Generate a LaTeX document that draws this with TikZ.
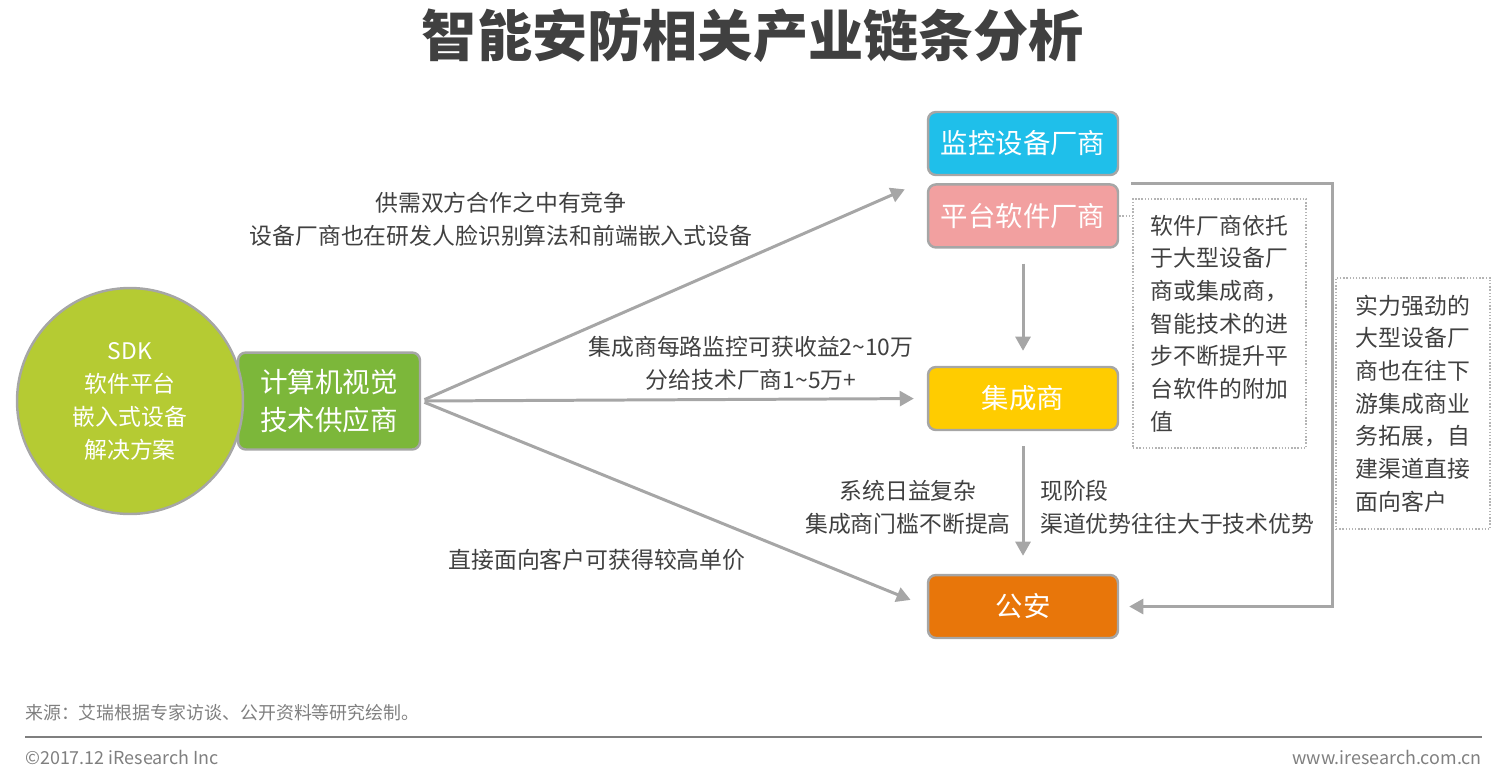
\documentclass[tikz,border=0pt]{standalone}
\usepackage{fontspec}
\setmainfont{Noto Sans CJK SC}
\usepackage{xcolor}
\usetikzlibrary{arrows.meta}
\usetikzlibrary{positioning,calc}
\definecolor{txtgray}{HTML}{404040}
\definecolor{linegray}{HTML}{A6A6A6}
\definecolor{dotgray}{HTML}{B4B4B4}
\definecolor{footgray}{HTML}{7F7F7F}
\definecolor{limegreen}{HTML}{B5CB33}
\definecolor{supgreen}{HTML}{7CB73A}
\definecolor{camblue}{HTML}{1FBFEA}
\definecolor{softpink}{HTML}{F2A0A0}
\definecolor{intyellow}{HTML}{FFCC00}
\definecolor{policeorange}{HTML}{E8760A}

\begin{document}
\begin{tikzpicture}[x=0.02cm,y=-0.02cm]

\tikzstyle{firm} = [rectangle, rounded corners=4.5pt, draw=linegray, line width=1.4pt,
minimum width=3.8cm, minimum height=1.26cm, text=white, font=\fontsize{15.6}{18}\selectfont]
\tikzstyle{flow} = [draw=linegray, line width=1.7pt, -{Triangle[length=8pt,width=8.5pt]}]
\tikzstyle{note} = [text=txtgray, font=\fontsize{13}{18.8}\selectfont, align=center]
\tikzstyle{remark} = [draw=dotgray, densely dotted, line width=0.8pt, text=txtgray,
font=\fontsize{13}{18.6}\selectfont, align=left]

\useasboundingbox (0,0) rectangle (1507,775);

\node[font=\fontsize{31.4}{34}\selectfont\bfseries, text=txtgray] (title) at (753,36) {智能安防相关产业链条分析};

\node[firm, fill=supgreen, minimum width=3.64cm, minimum height=1.94cm, align=center,
font=\fontsize{15.7}{22}\selectfont] (supplier) at (329,401) {计算机视觉\\技术供应商};
\node[circle, fill=limegreen, draw=linegray, line width=1.4pt, minimum size=4.52cm, text=white,
align=center, font=\fontsize{13}{18.8}\selectfont] (offer) at (130,401) {SDK\\软件平台\\嵌入式设备\\解决方案};

\node[firm, fill=camblue] (camera) at (1023,143.5) {监控设备厂商};
\node[firm, fill=softpink, below=0.14cm of camera] (platform) {平台软件厂商};
\node[firm, fill=intyellow] (integrator) at (1023,398.5) {集成商};
\node[firm, fill=policeorange] (police) at (1023,606.5) {公安};

\coordinate (vendors) at ($(camera.south west)!0.5!(platform.north west)$);
\draw[flow, shorten <=2pt, shorten >=0.48cm] (supplier.east) -- (vendors);
\draw[flow, shorten <=2pt, shorten >=0.26cm] (supplier.east) -- (integrator.west);
\draw[flow, shorten <=2pt, shorten >=0.35cm] (supplier.east) -- (police.west);

\draw[flow, shorten <=0.3cm, shorten >=0.3cm] (platform) -- (integrator);
\draw[flow, shorten <=0.3cm, shorten >=0.36cm] (integrator) -- (police);
\draw[flow, shorten >=0.2cm] ([xshift=0.24cm]platform.north east) -- ++(201,0) |- (police.east);

\node[remark, minimum width=3.46cm, minimum height=4.98cm] (softnote) at (1219.5,323.5)
{软件厂商依托\\于大型设备厂\\商或集成商，\\智能技术的进\\步不断提升平\\台软件的附加\\值};
\draw[densely dotted, draw=dotgray, line width=0.8pt] (platform.east) -- (platform.east -| softnote.west);
\node[remark, minimum width=3.08cm, minimum height=5.02cm] (bignote) at (1413,403.5)
{实力强劲的\\大型设备厂\\商也在往下\\游集成商业\\务拓展，自\\建渠道直接\\面向客户};

\node[note] (coop) at (501,219) {供需双方合作之中有竞争\\设备厂商也在研发人脸识别算法和前端嵌入式设备};
\node[note] (income) at (751,363.5) {集成商每路监控可获收益2\textasciitilde10万\\分给技术厂商1\textasciitilde5万+};
\node[note] (direct) at (597,560) {直接面向客户可获得较高单价};
\node[note] (complex) at (908,507) {系统日益复杂\\集成商门槛不断提高};
\node[note, align=left, anchor=west] (channel) at (1034,507) {现阶段\\渠道优势往往大于技术优势};

% footer
\node[anchor=west, text=footgray, font=\fontsize{10.2}{12}\selectfont] (source) at (19,713)
{来源：艾瑞根据专家访谈、公开资料等研究绘制。};
\draw[footgray, line width=1.4pt] (25,737) -- (1482,737);
\node[anchor=west, text=footgray, font=\fontsize{10.2}{12}\selectfont] (copyright) at (19,757) {©2017.12 iResearch Inc};
\node[anchor=east, text=footgray, font=\fontsize{10.2}{12}\selectfont] (website) at (1488,757) {www.iresearch.com.cn};

\end{tikzpicture}
\end{document}
